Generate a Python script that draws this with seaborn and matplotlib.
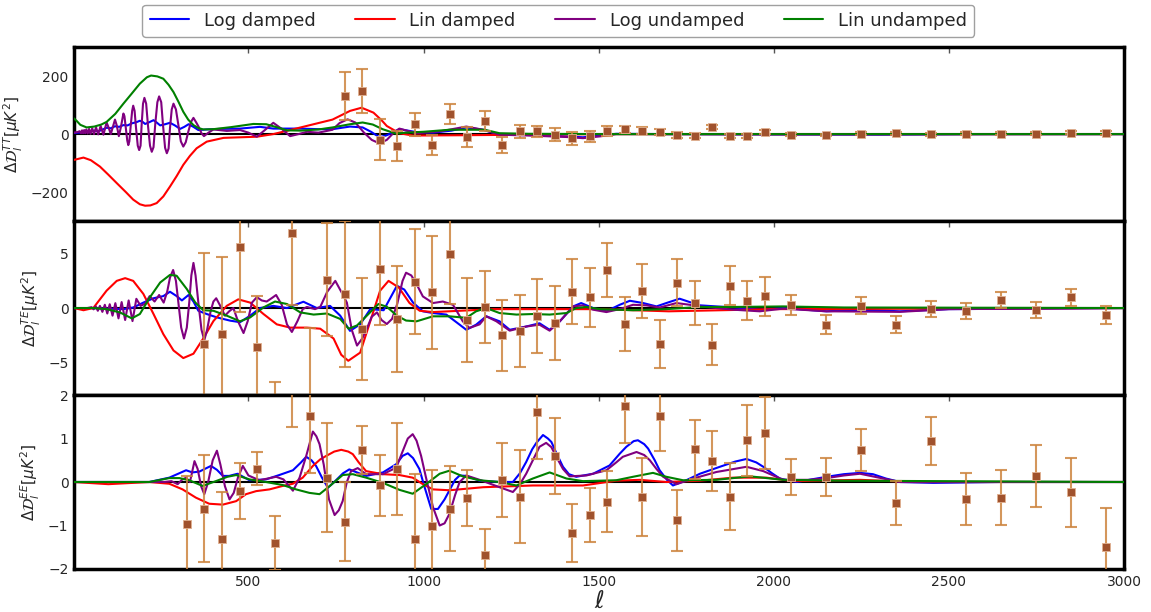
import numpy as np
import pandas as pd
import matplotlib
matplotlib.use("Agg")
import matplotlib.pyplot as plt
import seaborn as sns

# ---------------- binned data (Planck residuals) ----------------
ell_TT = [774.5, 824.5, 874.5, 924.5, 974.5, 1024.5, 1074.5, 1124.5, 1174.5, 1224.5,
          1274.5, 1324.5, 1374.5, 1424.5, 1474.5, 1524.5, 1574.5, 1624.5, 1674.5, 1724.5,
          1774.5, 1824.5, 1874.5, 1924.5, 1974.5, 2049.5, 2149.5, 2249.5, 2349.5, 2449.5,
          2549.5, 2649.5, 2749.5, 2849.5, 2949.5]
val_TT = [131, 149, -20, -42, 34, -38, 69, -9, 46, -37,
          9, 9, -2, -14, -8, 11, 16, 11, 8, -3,
          -6, 25, -5, -8, 8, -2, -3, 1, 3, 0,
          1, 2, 2, 4, 4]
err_TT = [82, 77, 71, 52, 40, 34, 34, 34, 35, 28,
          22, 20, 22, 22, 20, 18, 12, 12, 10, 10,
          9, 8, 7, 7, 7, 6, 5, 5, 5, 5,
          5, 5, 5, 5, 6]

ell_TE = [374.5, 424.5, 474.5, 524.5, 574.5, 624.5, 674.5, 724.5, 774.5, 824.5,
          874.5, 924.5, 974.5, 1024.5, 1074.5, 1124.5, 1174.5, 1224.5, 1274.5, 1324.5,
          1374.5, 1424.5, 1474.5, 1524.5, 1574.5, 1624.5, 1674.5, 1724.5, 1774.5, 1824.5,
          1874.5, 1924.5, 1974.5, 2049.5, 2149.5, 2249.5, 2349.5, 2449.5, 2549.5, 2649.5,
          2749.5, 2849.5, 2949.5]
val_TE = [-3.3, -2.4, 5.6, -3.6, -11.5, 6.94, -9.0, 2.6, 1.3, -1.9,
          3.58, -1.0, 2.44, 1.47, 5.0, -1.07, 0.09, -2.5, -2.14, -0.77,
          -1.4, 1.5, 0.98, 3.5, -1.44, 1.59, -3.3, 2.35, 0.46, -3.37,
          2.05, 0.67, 1.07, 0.3, -1.53, 0.21, -1.53, -0.1, -0.25, 0.73,
          -0.16, 0.98, -0.61]
err_TE = [8.35, 7.1, 6.0, 4.7, 4.7, 6.7, 7.2, 5.2, 6.7, 4.7,
          5.1, 4.85, 4.8, 5.2, 4.64, 3.85, 3.3, 3.25, 3.3, 3.4,
          3.4, 3.0, 2.7, 2.5, 2.5, 2.5, 2.2, 2.2, 2.05, 1.9,
          1.8, 1.8, 1.8, 0.9, 0.85, 0.8, 0.77, 0.75, 0.72, 0.73,
          0.75, 0.77, 0.82]

ell_EE = [324.5, 374.5, 424.5, 474.5, 524.5, 574.5, 624.5, 674.5, 724.5, 774.5,
          824.5, 874.5, 924.5, 974.5, 1024.5, 1074.5, 1124.5, 1174.5, 1224.5, 1274.5,
          1324.5, 1374.5, 1424.5, 1474.5, 1524.5, 1574.5, 1624.5, 1674.5, 1724.5, 1774.5,
          1824.5, 1874.5, 1924.5, 1974.5, 2049.5, 2149.5, 2249.5, 2349.5, 2449.5, 2549.5,
          2649.5, 2749.5, 2849.5, 2949.5]
val_EE = [-0.96, -0.61, -1.31, -0.21, 0.31, -1.4, 2.2, 1.51, 0.1, -0.91,
          0.73, -0.08, 0.29, -1.32, -1.01, -0.61, -0.37, -1.69, 0.04, -0.34,
          1.6, 0.6, -1.17, -0.75, -0.45, 1.74, -0.34, 1.52, -0.88, 0.75,
          0.48, -0.34, 0.96, 1.12, 0.11, 0.12, 0.74, -0.49, 0.94, -0.4,
          -0.36, 0.14, -0.24, -1.5]
err_EE = [1.1, 1.24, 1.08, 0.65, 0.37, 0.62, 0.94, 1.31, 1.25, 0.9,
          0.55, 0.7, 1.06, 1.5, 1.29, 0.97, 0.65, 0.6, 0.85, 1.07,
          1.08, 0.87, 0.66, 0.62, 0.71, 0.85, 0.9, 0.8, 0.7, 0.67,
          0.69, 0.77, 0.82, 0.83, 0.41, 0.44, 0.49, 0.51, 0.55, 0.6,
          0.64, 0.71, 0.8, 0.91]

# ---------------- model residual curves ----------------
# TT
tt_logd_l = [2, 15, 30, 48, 60, 72, 84, 95, 107, 119, 131, 143, 155, 167, 180, 190, 198, 205, 215, 229,
             238, 248, 262, 276, 290, 305, 317, 329, 343, 357, 380, 420, 476, 533, 571, 646, 700, 740, 790, 826,
             850, 874, 895, 915, 931, 979, 1027, 1080, 1122, 1170, 1217, 1300, 1408, 1455, 1503, 1550, 1700, 2000,
             2300, 2600, 3000]
tt_logd_v = [4, 5, 6, 9, 12, 10, 16, 22, 20, 27, 25, 31, 30, 37, 41, 46, 42, 35, 40, 48,
             40, 30, 34, 39, 30, 18, 25, 34, 25, 14, 16, 18, 19, 25, 19, 19, 17, 17, 26, 23,
             8, -11, -4, 8, 17, 7, 5, 12, 23, 15, -2, -3, -8, -11, -5, 1, 0, -1,
             -2, 0, 0]

tt_lind_l = [2, 29, 50, 76, 100, 124, 150, 171, 190, 205, 220, 238, 257, 276, 295, 314, 333, 352, 381, 429,
             476, 524, 571, 619, 686, 740, 790, 823, 857, 880, 895, 931, 970, 1100, 1300, 1500, 3000]
tt_lind_v = [-89, -81, -90, -112, -140, -169, -200, -226, -242, -247, -246, -238, -215, -181, -145, -106, -75, -49, -26, -13,
             -11, -9, 0, 14, 34, 50, 80, 91, 74, 48, 28, 3, -5, -4, -2, 0, 0]

tt_logu_l = [2, 12, 18, 22, 25, 28, 31, 34, 37, 41, 45, 49, 54, 59, 65, 71, 78, 86, 95, 101,
             107, 113, 119, 124, 130, 136, 143, 146, 150, 154, 157, 160, 164, 168, 171, 175, 179, 184, 188, 192,
             195, 199, 203, 208, 213, 219, 224, 229, 234, 240, 245, 251, 256, 262, 267, 272, 276, 281, 286, 293,
             300, 307, 314, 321, 328, 336, 343, 350, 358, 366, 373, 386, 400, 438, 476, 500, 524, 548, 571, 595,
             619, 643, 667, 700, 740, 760, 783, 805, 830, 852, 874, 895, 915, 931, 979, 1050, 1122, 1170, 1217, 1300,
             1408, 1455, 1503, 1550, 1700, 2000, 3000]
tt_logu_v = [5, 7, 10, 3, 13, 3, 14, 3, 16, 2, 18, 1, 20, 0, 23, -1, 28, -2, 40, 22,
             0, 25, 50, 30, -7, 25, 71, 62, 20, -22, -38, -25, 30, 80, 98, 80, 22, -40, -55, -40,
             30, 105, 125, 105, 32, -40, -61, -45, 35, 110, 130, 110, 32, -47, -66, -50, 20, 85, 105, 85,
             31, -25, -43, -28, 7, 42, 56, 42, 25, 3, -7, 5, 16, 11, 14, 5, -9, 15, 39, 18,
             -7, 0, 8, 5, 15, 38, 51, 40, 5, -20, -32, -20, 5, 19, 3, 10, 26, 15, -2, -5,
             -10, -14, -8, 0, 0, -1, 0]

tt_linu_l = [2, 10, 20, 38, 60, 80, 95, 120, 143, 167, 190, 210, 222, 240, 257, 272, 286, 300, 314, 328,
             343, 357, 371, 400, 450, 514, 551, 580, 610, 650, 700, 740, 790, 826, 855, 883, 920, 950, 1000, 1074,
             1174, 1217, 1300, 1500, 3000]
tt_linu_v = [54, 45, 32, 23, 26, 33, 42, 70, 105, 140, 174, 196, 202, 199, 191, 170, 145, 112, 77, 50,
             31, 21, 16, 17, 24, 35, 34, 24, 13, 12, 16, 23, 34, 40, 33, 17, 2, 5, 8, 15,
             15, 3, 1, 0, 0]

# TE
te_logd_l = [2, 57, 95, 143, 171, 200, 229, 257, 276, 295, 310, 329, 343, 357, 381, 410, 448, 476, 505, 533,
             571, 610, 657, 695, 733, 762, 790, 819, 848, 886, 924, 945, 970, 998, 1027, 1065, 1103, 1122, 1150, 1179,
             1217, 1246, 1293, 1331, 1360, 1389, 1427, 1450, 1484, 1522, 1560, 1589, 1627, 1665, 1693, 1731, 1760, 1789, 1836, 1884,
             1960, 2027, 2150, 2250, 2360, 2500, 3000]
te_logd_v = [0, 0, -0.05, -0.1, 0.05, 0.5, 0.9, 1.1, 1.5, 1.1, 0.7, 1.2, 0.6, -0.25, -0.55, -0.86, -1.16, -1.3, -0.7, 0,
             0.2, 0, 0.58, 0, 0.2, -0.7, -2.1, -1.5, -0.1, -0.2, 2.05, 1.7, 0.5, -0.3, -0.46, -0.6, -1.53, -2.0, -1.53, -0.76,
             -1.22, -2.0, -1.7, -1.4, -2.0, -1.22, 0.15, 0.46, 0, -0.3, 0.3, 0.67, 0.46, 0.15, 0.46, 0.86, 0.55, 0.25, 0.15, 0.06,
             -0.15, 0, -0.3, -0.15, -0.3, -0.1, 0]

te_lind_l = [2, 29, 57, 76, 95, 124, 148, 171, 200, 229, 257, 286, 314, 343, 371, 400, 438, 471, 505, 543,
             581, 619, 667, 705, 743, 765, 785, 819, 848, 876, 900, 929, 960, 989, 1027, 1200, 1500, 1700, 2000, 3000]
te_lind_v = [0, -0.2, 0, 0.8, 1.6, 2.5, 2.75, 2.5, 1.3, -0.55, -2.4, -3.9, -4.6, -4.2, -2.8, -1.2, 0.2, 0.8, 0.5, -0.55,
             -1.5, -1.8, -1.8, -1.9, -2.8, -4.3, -4.85, -4.1, -1.2, 1.6, 2.5, 1.9, 0.46, -0.25, -0.37, -0.1, -0.1, -0.3, -0.1, 0]

te_logu_l = [2, 40, 52, 58, 64, 70, 76, 83, 90, 97, 104, 112, 120, 129, 138, 148, 158, 169, 180, 192,
             205, 218, 232, 245, 258, 268, 276, 285, 293, 300, 308, 316, 324, 331, 337, 343, 349, 357, 366, 374,
             382, 392, 400, 408, 418, 433, 445, 457, 470, 486, 498, 510, 524, 538, 552, 566, 579, 595, 610, 624,
             640, 655, 667, 690, 705, 725, 748, 765, 781, 795, 810, 825, 838, 852, 867, 880, 895, 910, 925, 940,
             950, 965, 980, 998, 1027, 1055, 1084, 1112, 1131, 1160, 1179, 1208, 1246, 1293, 1331, 1360, 1389, 1427, 1455, 1484,
             1522, 1560, 1598, 1636, 1674, 1722, 1760, 1789, 1884, 1960, 2027, 2150, 2360, 2500, 3000]
te_logu_v = [0, 0, 0.08, -0.12, 0.15, -0.25, 0.2, -0.35, 0.3, -0.5, 0.35, -0.7, 0.45, -0.95, 0.55, -1.1, 0.7, -1.2, 0.85, 0.2,
             0.4, 1.1, 0.6, 1.2, 0.5, 1.5, 2.8, 3.5, 2.5, 0.5, -1.8, -2.8, -1.8, 0.5, 3.0, 4.15, 3.0, 0.5, -2.0, -2.95,
             -2.0, -0.3, 0.6, 0.9, 0.3, -0.7, -0.3, 0, -1.2, -2.3, -1.2, 0.5, 1.0, 0.7, 0.6, 0.9, 1.2, 0.3, -1.5, -2.2,
             -1.2, -0.1, 0.1, -0.1, 0.1, 1.5, 2.5, 1.5, 0.5, -2.0, -3.45, -2.8, -1.9, -0.8, -0.4, -1.1, -1.47, -1.0, 0.4, 2.5,
             3.25, 3.0, 2.2, 1.07, 0.46, 0.6, 0.3, -1.22, -1.83, -1.5, -0.76, -1.22, -2.08, -1.7, -1.53, -2.08, -1.22, 0.15, 0.25, -0.15,
             -0.37, -0.1, 0.3, 0.25, 0.05, 0.46, 0.3, 0.15, -0.15, -0.3, -0.05, -0.3, -0.35, -0.1, 0]

te_linu_l = [2, 57, 95, 133, 167, 190, 219, 248, 276, 295, 324, 348, 371, 400, 438, 476, 505, 543, 576, 610,
             648, 686, 724, 762, 786, 810, 838, 871, 895, 924, 950, 980, 1027, 1074, 1122, 1150, 1179, 1217, 1265, 1312,
             1360, 1408, 1436, 1465, 1503, 1598, 1693, 1789, 1884, 2027, 2200, 3000]
te_linu_v = [0, 0, -0.1, -0.4, -0.95, -0.55, 1.0, 2.35, 3.05, 2.97, 1.75, 0.52, -0.2, -0.25, -0.7, -1.22, -0.86, 0.06, 0.6, 0.37,
             -0.4, -0.6, -0.5, -1.0, -1.9, -1.6, -0.7, 0.37, 0.12, -0.7, -1.15, -1.22, -0.76, -0.76, -0.9, -0.3, 0, -0.46, -0.6, -0.55,
             -0.6, -0.46, 0, 0.1, -0.1, -0.2, -0.1, 0.1, 0.1, 0.15, 0.05, 0]

# EE
ee_logd_l = [2, 217, 274, 322, 340, 360, 393, 410, 427, 445, 469, 503, 550, 588, 627, 650, 665, 680, 693, 710,
             727, 745, 770, 788, 810, 836, 884, 922, 940, 955, 970, 988, 1003, 1022, 1041, 1060, 1074, 1090, 1103, 1122,
             1160, 1217, 1255, 1275, 1293, 1310, 1322, 1341, 1355, 1365, 1380, 1398, 1415, 1436, 1484, 1531, 1560, 1579, 1600, 1612,
             1630, 1641, 1660, 1674, 1695, 1712, 1750, 1789, 1846, 1890, 1922, 1950, 1970, 1995, 2017, 2065, 2151, 2200, 2246, 2283,
             2320, 2360, 2455, 2550, 2646, 3000]
ee_logd_v = [0, 0, 0.1, 0.27, 0.22, 0.24, 0.37, 0.28, 0.14, 0.14, 0.19, 0.04, 0.06, 0.16, 0.27, 0.45, 0.58, 0.5, 0.37, 0.1,
             -0.13, 0.0, 0.2, 0.29, 0.22, 0.14, 0.22, 0.41, 0.6, 0.66, 0.55, 0.3, -0.12, -0.62, -0.62, -0.4, -0.19, 0.05, 0.15, 0.14,
             0.03, 0.0, 0.0, 0.2, 0.46, 0.75, 0.9, 1.08, 1.0, 0.92, 0.65, 0.35, 0.18, 0.12, 0.19, 0.38, 0.65, 0.81, 0.94, 0.96,
             0.87, 0.77, 0.5, 0.27, 0.05, -0.08, 0.04, 0.19, 0.35, 0.47, 0.53, 0.45, 0.35, 0.2, 0.08, 0.0, 0.12, 0.18, 0.21, 0.18,
             0.08, 0.0, -0.02, -0.01, 0.0, 0]

ee_lind_l = [2, 100, 217, 274, 312, 350, 388, 427, 465, 493, 522, 560, 598, 627, 655, 684, 705, 722, 745, 765,
             785, 798, 815, 836, 884, 931, 969, 998, 1027, 1074, 1170, 1312, 1455, 1550, 1617, 1693, 1789, 1884, 1979, 2055,
             2246, 2400, 3000]
ee_lind_v = [0, -0.05, 0, -0.04, -0.17, -0.36, -0.5, -0.52, -0.44, -0.28, -0.21, -0.17, -0.09, -0.04, 0.1, 0.37, 0.52, 0.6, 0.7, 0.74,
             0.7, 0.64, 0.45, 0.25, 0.18, 0.16, 0.1, -0.05, -0.17, -0.19, -0.12, -0.08, -0.08, 0.03, 0.05, 0.0, 0.03, 0.1, 0.1, 0.02,
             0.05, 0.0, 0]

ee_logu_l = [2, 217, 260, 280, 298, 310, 322, 333, 346, 355, 365, 374, 385, 398, 410, 420, 433, 446, 458, 470,
             484, 500, 531, 579, 600, 627, 646, 665, 684, 694, 703, 715, 730, 746, 758, 769, 781, 793, 812, 836,
             884, 922, 940, 955, 969, 980, 993, 1007, 1027, 1046, 1060, 1074, 1090, 1103, 1122, 1160, 1217, 1255, 1275, 1293,
             1312, 1331, 1350, 1365, 1379, 1398, 1417, 1465, 1522, 1550, 1569, 1608, 1630, 1646, 1665, 1684, 1722, 1770, 1836, 1922,
             1970, 2027, 2100, 2151, 2200, 2246, 2300, 2360, 2500, 3000]
ee_logu_v = [0, 0, 0.0, 0.02, -0.05, 0.05, 0.1, 0.0, 0.48, 0.3, -0.1, -0.28, 0.0, 0.5, 0.72, 0.4, -0.1, -0.4, -0.25, 0.1,
             0.37, 0.15, 0.04, 0.12, 0.06, -0.2, 0.1, 0.6, 1.16, 1.05, 0.87, 0.4, -0.4, -0.76, -0.65, -0.44, 0.0, 0.25, 0.32, 0.18,
             0.18, 0.33, 0.7, 1.0, 1.1, 0.95, 0.6, 0.1, -0.58, -1.0, -0.95, -0.73, -0.3, 0.0, 0.15, 0.05, -0.12, -0.23, -0.05, 0.19,
             0.5, 0.81, 0.9, 0.8, 0.58, 0.3, 0.13, 0.15, 0.27, 0.45, 0.58, 0.69, 0.62, 0.5, 0.3, 0.12, -0.05, 0.08, 0.23, 0.35,
             0.25, 0.05, 0.05, 0.09, 0.15, 0.19, 0.1, 0.0, 0.0, 0]

ee_linu_l = [2, 217, 274, 303, 331, 369, 407, 440, 465, 503, 550, 598, 636, 674, 703, 731, 769, 798, 836, 884,
             931, 969, 1007, 1046, 1074, 1112, 1160, 1217, 1265, 1312, 1360, 1408, 1455, 1550, 1598, 1655, 1693, 1741, 1836, 1932,
             2027, 2200, 3000]
ee_linu_v = [0, 0, 0.09, 0.09, 0.04, -0.09, 0.02, 0.12, 0.16, 0.06, 0.0, -0.07, -0.17, -0.25, -0.28, -0.1, 0.16, 0.18, 0.1, -0.02,
             -0.18, -0.27, -0.05, 0.19, 0.26, 0.13, 0.04, 0.0, -0.08, 0.08, 0.22, 0.08, 0.02, 0.04, 0.12, 0.21, 0.12, 0.04, 0.05, 0.13,
             0.05, 0.03, 0]

labels = ["Log damped", "Lin damped", "Log undamped", "Lin undamped"]
colors = ["blue", "red", "purple", "green"]
ylabels = [r"$\Delta\mathcal{D}_l^{TT}[\mu K^2]$",
           r"$\Delta\mathcal{D}_l^{TE}[\mu K^2]$",
           r"$\Delta\mathcal{D}_l^{EE}[\mu K^2]$"]
xticks = [500, 1000, 1500, 2000, 2500, 3000]
yticks = [[-200, 0, 200], [-5, 0, 5], [-2, -1, 0, 1, 2]]
ylims = [(-300, 300), (-8, 8), (-2, 2)]

panels = [
    ([(tt_logd_l, tt_logd_v), (tt_lind_l, tt_lind_v), (tt_logu_l, tt_logu_v), (tt_linu_l, tt_linu_v)],
     (ell_TT, val_TT, err_TT)),
    ([(te_logd_l, te_logd_v), (te_lind_l, te_lind_v), (te_logu_l, te_logu_v), (te_linu_l, te_linu_v)],
     (ell_TE, val_TE, err_TE)),
    ([(ee_logd_l, ee_logd_v), (ee_lind_l, ee_lind_v), (ee_logu_l, ee_logu_v), (ee_linu_l, ee_linu_v)],
     (ell_EE, val_EE, err_EE)),
]

sns.set_style("white")
plt.rcParams["font.family"] = ["DejaVu Sans"]
plt.rcParams["mathtext.fontset"] = "dejavusans"

fig, axes = plt.subplots(3, 1, figsize=(11.51, 6.12), dpi=100, sharex=True)
fig.subplots_adjust(left=0.0643, right=0.9766, top=0.923, bottom=0.0703, hspace=0)

legend_handles = []
for i, (ax, (curves, pts)) in enumerate(zip(axes, panels)):
    ax.axhline(0, color="black", lw=1.5, zorder=1)
    for (xl, yl), lab, col in zip(curves, labels, colors):
        df = pd.DataFrame({"ell": xl, "val": yl})
        sns.lineplot(data=df, x="ell", y="val", ax=ax, color=col, lw=1.5,
                     legend=False, zorder=3)
        if i == 0:
            legend_handles.append(ax.lines[-1])
    ex, ey, ee = pts
    ax.errorbar(ex, ey, yerr=ee, fmt="none", ecolor="#CD853F", elinewidth=1.5,
                capsize=4.5, capthick=1.5, alpha=0.85, zorder=4)
    sns.scatterplot(x=ex, y=ey, ax=ax, marker="s", color="#A0522D", s=36,
                    edgecolor="#E0B090", linewidth=0.6, zorder=5, legend=False)
    leg = ax.get_legend()
    if leg is not None:
        leg.remove()
    ax.set_xlim(2, 3000)
    ax.set_ylim(*ylims[i])
    ax.set_yticks(yticks[i])
    ax.set_ylabel(ylabels[i], fontsize=11)
    ax.set_xlabel("")
    for sp in ax.spines.values():
        sp.set_linewidth(2.5)
        sp.set_color("black")
    ax.tick_params(axis="both", direction="in", length=4, width=1, color="#555555",
                   labelsize=10, top=True, pad=4)
    ax.set_xticks(xticks)

axes[2].set_xlabel(r"$\ell$", fontsize=17, labelpad=0)

fig.legend(legend_handles, labels, loc="upper center", ncol=4, fontsize=13,
           bbox_to_anchor=(0.485, 1.0), frameon=True, edgecolor="#888888",
           columnspacing=2.2, handlelength=2.2, borderaxespad=0.25)

fig.savefig("out.png", dpi=100)
